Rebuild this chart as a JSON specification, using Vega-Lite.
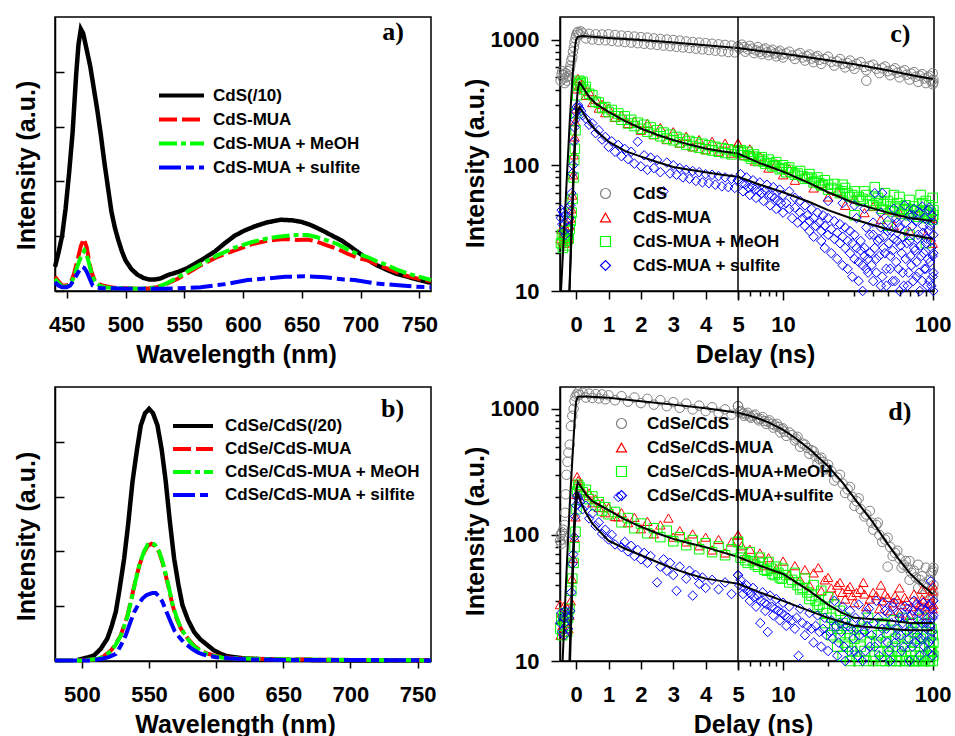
{
"$schema": "https://vega.github.io/schema/vega-lite/v6.json",
"background": "white",
"padding": {"left": 13, "top": 15, "right": 5, "bottom": 5},
"config": {
  "view": {"stroke": "black", "strokeWidth": 1.5},
  "font": "Liberation Sans",
  "axis": {"grid": false, "domainColor": "black", "domainWidth": 1.5, "tickColor": "black", "tickWidth": 1.5, "labelFont": "Liberation Sans", "labelFontSize": 22, "labelFontWeight": "bold", "labelColor": "black", "labelFlush": false, "labelOverlap": false, "titleFont": "Liberation Sans", "titleFontSize": 25, "titleFontWeight": "bold", "titleColor": "black"},
  "legend": {"labelFont": "Liberation Sans", "labelFontSize": 17, "labelFontWeight": "bold", "labelColor": "black", "padding": 0, "labelLimit": 400}
},
"datasets": {
"a1": [{"w":440,"I":0.44},{"w":443,"I":0.7},{"w":446,"I":1.0},{"w":449,"I":1.5},{"w":452,"I":2.15},{"w":455,"I":2.9},{"w":458,"I":3.95},{"w":460,"I":4.5},{"w":462,"I":4.78},{"w":464,"I":4.7},{"w":466,"I":4.5},{"w":468,"I":4.3},{"w":470,"I":4.1},{"w":473,"I":3.7},{"w":476,"I":3.3},{"w":479,"I":2.85},{"w":482,"I":2.35},{"w":485,"I":1.9},{"w":488,"I":1.45},{"w":491,"I":1.15},{"w":494,"I":0.92},{"w":497,"I":0.72},{"w":500,"I":0.56},{"w":505,"I":0.4},{"w":510,"I":0.3},{"w":515,"I":0.24},{"w":520,"I":0.21},{"w":525,"I":0.21},{"w":530,"I":0.23},{"w":536,"I":0.29},{"w":545,"I":0.35},{"w":553,"I":0.42},{"w":565,"I":0.57},{"w":576,"I":0.72},{"w":585,"I":0.88},{"w":593,"I":1.01},{"w":601,"I":1.1},{"w":610,"I":1.18},{"w":620,"I":1.25},{"w":632,"I":1.3},{"w":642,"I":1.29},{"w":650,"I":1.26},{"w":658,"I":1.2},{"w":667,"I":1.11},{"w":675,"I":1.02},{"w":684,"I":0.92},{"w":692,"I":0.8},{"w":701,"I":0.66},{"w":706,"I":0.57},{"w":714,"I":0.47},{"w":723,"I":0.38},{"w":731,"I":0.31},{"w":740,"I":0.26},{"w":750,"I":0.2},{"w":760,"I":0.15}],
"a2": [{"w":440,"I":0.26},{"w":443,"I":0.18},{"w":446,"I":0.1},{"w":450,"I":0.1},{"w":453,"I":0.14},{"w":456,"I":0.3},{"w":459,"I":0.55},{"w":462,"I":0.82},{"w":464.5,"I":0.95},{"w":467,"I":0.8},{"w":469,"I":0.55},{"w":471,"I":0.35},{"w":474,"I":0.18},{"w":478,"I":0.12},{"w":482,"I":0.09},{"w":490,"I":0.06},{"w":500,"I":0.05},{"w":510,"I":0.04},{"w":520,"I":0.05},{"w":527,"I":0.07},{"w":535,"I":0.13},{"w":544,"I":0.22},{"w":553,"I":0.33},{"w":564,"I":0.47},{"w":578,"I":0.62},{"w":593,"I":0.74},{"w":607,"I":0.85},{"w":621,"I":0.92},{"w":630,"I":0.94},{"w":638,"I":0.95},{"w":646,"I":0.93},{"w":655,"I":0.94},{"w":663,"I":0.9},{"w":672,"I":0.83},{"w":680,"I":0.77},{"w":689,"I":0.68},{"w":697,"I":0.61},{"w":706,"I":0.56},{"w":714,"I":0.48},{"w":723,"I":0.41},{"w":731,"I":0.34},{"w":740,"I":0.27},{"w":748,"I":0.23},{"w":757,"I":0.19},{"w":760,"I":0.18}],
"a3": [{"w":440,"I":0.22},{"w":443,"I":0.15},{"w":446,"I":0.08},{"w":450,"I":0.08},{"w":453,"I":0.12},{"w":456,"I":0.25},{"w":459,"I":0.45},{"w":462,"I":0.62},{"w":465,"I":0.74},{"w":467,"I":0.66},{"w":469,"I":0.5},{"w":471,"I":0.32},{"w":474,"I":0.16},{"w":478,"I":0.1},{"w":482,"I":0.07},{"w":490,"I":0.05},{"w":500,"I":0.05},{"w":510,"I":0.04},{"w":520,"I":0.05},{"w":527,"I":0.07},{"w":535,"I":0.14},{"w":544,"I":0.24},{"w":553,"I":0.36},{"w":564,"I":0.49},{"w":578,"I":0.65},{"w":593,"I":0.79},{"w":607,"I":0.89},{"w":621,"I":0.96},{"w":630,"I":0.99},{"w":638,"I":1.01},{"w":646,"I":1.02},{"w":655,"I":1.02},{"w":663,"I":0.98},{"w":672,"I":0.92},{"w":680,"I":0.86},{"w":689,"I":0.76},{"w":697,"I":0.68},{"w":706,"I":0.62},{"w":714,"I":0.54},{"w":723,"I":0.47},{"w":731,"I":0.39},{"w":740,"I":0.32},{"w":748,"I":0.27},{"w":757,"I":0.22},{"w":760,"I":0.2}],
"a4": [{"w":440,"I":0.16},{"w":443,"I":0.1},{"w":446,"I":0.07},{"w":450,"I":0.07},{"w":453,"I":0.1},{"w":456,"I":0.2},{"w":460,"I":0.35},{"w":463,"I":0.44},{"w":465,"I":0.42},{"w":467,"I":0.35},{"w":470,"I":0.2},{"w":472,"I":0.1},{"w":476,"I":0.06},{"w":480,"I":0.05},{"w":490,"I":0.05},{"w":500,"I":0.04},{"w":510,"I":0.04},{"w":520,"I":0.04},{"w":530,"I":0.04},{"w":545,"I":0.05},{"w":555,"I":0.06},{"w":564,"I":0.07},{"w":575,"I":0.1},{"w":587,"I":0.13},{"w":596,"I":0.17},{"w":604,"I":0.2},{"w":615,"I":0.22},{"w":627,"I":0.24},{"w":636,"I":0.26},{"w":644,"I":0.26},{"w":652,"I":0.27},{"w":661,"I":0.26},{"w":670,"I":0.25},{"w":678,"I":0.23},{"w":686,"I":0.21},{"w":695,"I":0.2},{"w":704,"I":0.17},{"w":712,"I":0.14},{"w":723,"I":0.12},{"w":735,"I":0.1},{"w":746,"I":0.08},{"w":757,"I":0.07},{"w":760,"I":0.07}],
"b1": [{"w":497,"I":0.02},{"w":500,"I":0.04},{"w":505,"I":0.07},{"w":509,"I":0.1},{"w":514,"I":0.22},{"w":519,"I":0.41},{"w":522,"I":0.62},{"w":525.3,"I":0.9},{"w":528,"I":1.3},{"w":531.5,"I":1.87},{"w":534.5,"I":2.5},{"w":537.7,"I":3.27},{"w":541,"I":3.85},{"w":543.9,"I":4.3},{"w":547,"I":4.52},{"w":550,"I":4.6},{"w":553,"I":4.52},{"w":556.3,"I":4.3},{"w":559.5,"I":3.85},{"w":562.5,"I":3.27},{"w":565.5,"I":2.55},{"w":568.7,"I":1.87},{"w":572,"I":1.38},{"w":574.9,"I":1.02},{"w":579,"I":0.75},{"w":583.6,"I":0.53},{"w":588,"I":0.4},{"w":593.5,"I":0.29},{"w":598,"I":0.2},{"w":603.4,"I":0.13},{"w":608,"I":0.09},{"w":613.3,"I":0.07},{"w":620,"I":0.05},{"w":635,"I":0.03},{"w":650,"I":0.02},{"w":700,"I":0.01},{"w":760,"I":0.01}],
"b2": [{"w":480,"I":0.01},{"w":500,"I":0.01},{"w":510,"I":0.03},{"w":516,"I":0.08},{"w":521.6,"I":0.19},{"w":525,"I":0.3},{"w":529,"I":0.47},{"w":534,"I":0.83},{"w":537,"I":1.15},{"w":540.2,"I":1.5},{"w":543,"I":1.76},{"w":546.4,"I":1.99},{"w":549,"I":2.1},{"w":551.8,"I":2.14},{"w":554.5,"I":2.1},{"w":557.5,"I":1.99},{"w":560,"I":1.8},{"w":562.5,"I":1.56},{"w":565,"I":1.3},{"w":567.5,"I":1.02},{"w":570.5,"I":0.78},{"w":573.7,"I":0.59},{"w":577,"I":0.47},{"w":579.9,"I":0.38},{"w":584,"I":0.27},{"w":588.5,"I":0.19},{"w":593,"I":0.14},{"w":598.4,"I":0.1},{"w":605,"I":0.07},{"w":615,"I":0.05},{"w":630,"I":0.04},{"w":650,"I":0.03},{"w":700,"I":0.02},{"w":760,"I":0.01}],
"b3": [{"w":480,"I":0.01},{"w":500,"I":0.01},{"w":510,"I":0.03},{"w":516,"I":0.07},{"w":521.6,"I":0.18},{"w":525,"I":0.29},{"w":529,"I":0.46},{"w":534,"I":0.82},{"w":537,"I":1.13},{"w":540.2,"I":1.49},{"w":543,"I":1.77},{"w":546.4,"I":2.0},{"w":549,"I":2.12},{"w":551.8,"I":2.15},{"w":554.5,"I":2.12},{"w":557.5,"I":2.0},{"w":560,"I":1.82},{"w":562.5,"I":1.58},{"w":565,"I":1.32},{"w":567.5,"I":1.04},{"w":570.5,"I":0.8},{"w":573.7,"I":0.6},{"w":577,"I":0.47},{"w":579.9,"I":0.37},{"w":584,"I":0.26},{"w":588.5,"I":0.18},{"w":593,"I":0.13},{"w":598.4,"I":0.09},{"w":605,"I":0.06},{"w":615,"I":0.05},{"w":630,"I":0.04},{"w":650,"I":0.03},{"w":700,"I":0.02},{"w":760,"I":0.01}],
"b4": [{"w":480,"I":0.01},{"w":505,"I":0.01},{"w":515,"I":0.04},{"w":520,"I":0.07},{"w":525.3,"I":0.13},{"w":529,"I":0.28},{"w":532.7,"I":0.47},{"w":536,"I":0.7},{"w":538.9,"I":0.89},{"w":542,"I":1.03},{"w":545.1,"I":1.14},{"w":548,"I":1.2},{"w":550,"I":1.22},{"w":552.6,"I":1.24},{"w":555,"I":1.24},{"w":557.5,"I":1.18},{"w":560,"I":1.08},{"w":563,"I":0.9},{"w":566.2,"I":0.71},{"w":569,"I":0.55},{"w":572.4,"I":0.44},{"w":575.5,"I":0.35},{"w":578.6,"I":0.29},{"w":582,"I":0.22},{"w":586,"I":0.16},{"w":590,"I":0.12},{"w":593.5,"I":0.1},{"w":600,"I":0.07},{"w":610,"I":0.05},{"w":625,"I":0.03},{"w":650,"I":0.02},{"w":700,"I":0.02},{"w":760,"I":0.01}],
"c1": [{"t":-0.48,"I":470},{"t":-0.45,"I":530},{"t":-0.43,"I":560},{"t":-0.4,"I":490},{"t":-0.38,"I":520},{"t":-0.35,"I":450},{"t":-0.33,"I":540},{"t":-0.3,"I":500},{"t":-0.28,"I":470},{"t":-0.25,"I":560},{"t":-0.23,"I":510},{"t":-0.2,"I":580},{"t":-0.18,"I":620},{"t":-0.15,"I":680},{"t":-0.12,"I":720},{"t":-0.1,"I":800},{"t":-0.07,"I":870},{"t":-0.05,"I":950},{"t":-0.02,"I":1020},{"t":0,"I":1080},{"t":0.03,"I":1130},{"t":0.06,"I":1150},{"t":0.1,"I":1100},{"t":0.15,"I":1160},{"t":0.2,"I":1120},{"t":0.3,"I":1020},{"t":0.4,"I":1110},{"t":0.5,"I":1000},{"t":0.6,"I":1100},{"t":0.7,"I":990},{"t":0.8,"I":1095},{"t":0.9,"I":985},{"t":1,"I":1100},{"t":1.1,"I":975},{"t":1.2,"I":1085},{"t":1.3,"I":965},{"t":1.4,"I":1075},{"t":1.5,"I":955},{"t":1.6,"I":1065},{"t":1.7,"I":945},{"t":1.8,"I":1055},{"t":1.9,"I":935},{"t":2,"I":1045},{"t":2.1,"I":925},{"t":2.2,"I":1035},{"t":2.3,"I":915},{"t":2.4,"I":1020},{"t":2.5,"I":905},{"t":2.6,"I":1010},{"t":2.7,"I":895},{"t":2.8,"I":1000},{"t":2.9,"I":885},{"t":3,"I":990},{"t":3.1,"I":875},{"t":3.2,"I":980},{"t":3.3,"I":865},{"t":3.4,"I":965},{"t":3.5,"I":855},{"t":3.6,"I":955},{"t":3.7,"I":845},{"t":3.8,"I":945},{"t":3.9,"I":835},{"t":4,"I":935},{"t":4.1,"I":825},{"t":4.2,"I":925},{"t":4.3,"I":815},{"t":4.4,"I":915},{"t":4.5,"I":805},{"t":4.6,"I":905},{"t":4.7,"I":795},{"t":4.8,"I":895},{"t":4.9,"I":790},{"t":5,"I":880},{"t":5.3,"I":910},{"t":5.6,"I":800},{"t":6,"I":890},{"t":6.4,"I":780},{"t":6.8,"I":870},{"t":7.2,"I":765},{"t":7.6,"I":850},{"t":8,"I":750},{"t":8.5,"I":830},{"t":9,"I":735},{"t":9.5,"I":815},{"t":10,"I":720},{"t":11,"I":800},{"t":12,"I":700},{"t":13,"I":780},{"t":14,"I":680},{"t":15,"I":760},{"t":16,"I":660},{"t":17,"I":740},{"t":18,"I":640},{"t":20,"I":730},{"t":22,"I":620},{"t":24,"I":700},{"t":26,"I":600},{"t":28,"I":680},{"t":30,"I":585},{"t":33,"I":660},{"t":36,"I":470},{"t":36,"I":570},{"t":40,"I":630},{"t":44,"I":540},{"t":48,"I":610},{"t":52,"I":520},{"t":56,"I":590},{"t":60,"I":500},{"t":65,"I":570},{"t":70,"I":480},{"t":75,"I":550},{"t":80,"I":460},{"t":85,"I":530},{"t":90,"I":450},{"t":95,"I":515},{"t":100,"I":440},{"t":100,"I":540},{"t":101,"I":480},{"t":5.1,"I":850},{"t":5.5,"I":870},{"t":5.8,"I":835},{"t":6.2,"I":845},{"t":6.6,"I":820},{"t":7,"I":800},{"t":7.4,"I":830},{"t":7.8,"I":790},{"t":8.3,"I":805},{"t":8.8,"I":775},{"t":9.3,"I":790},{"t":9.8,"I":760},{"t":10.5,"I":775},{"t":11.5,"I":745},{"t":12.5,"I":760},{"t":13.5,"I":720},{"t":14.5,"I":735},{"t":15.5,"I":705},{"t":16.5,"I":720},{"t":17.5,"I":690},{"t":19,"I":700},{"t":21,"I":665},{"t":23,"I":670},{"t":25,"I":640},{"t":27,"I":650},{"t":29,"I":620},{"t":31,"I":640},{"t":35,"I":605},{"t":38,"I":615},{"t":42,"I":585},{"t":46,"I":590},{"t":50,"I":560},{"t":54,"I":570},{"t":58,"I":545},{"t":62,"I":555},{"t":67,"I":525},{"t":72,"I":535},{"t":77,"I":505},{"t":82,"I":515},{"t":88,"I":490},{"t":93,"I":500},{"t":98,"I":470},{"t":101,"I":455}],
"c2": [{"t":-0.48,"I":26},{"t":-0.45,"I":31},{"t":-0.42,"I":25},{"t":-0.39,"I":29},{"t":-0.36,"I":24},{"t":-0.33,"I":32},{"t":-0.3,"I":27},{"t":-0.27,"I":30},{"t":-0.24,"I":26},{"t":-0.21,"I":33},{"t":-0.18,"I":38},{"t":-0.15,"I":45},{"t":-0.12,"I":58},{"t":-0.09,"I":84},{"t":-0.07,"I":121},{"t":-0.05,"I":168},{"t":-0.03,"I":222},{"t":-0.01,"I":281},{"t":0.02,"I":405},{"t":0.05,"I":490},{"t":0.08,"I":470},{"t":0.12,"I":430},{"t":0.2,"I":440},{"t":0.3,"I":360},{"t":0.4,"I":385},{"t":0.5,"I":315},{"t":0.6,"I":335},{"t":0.7,"I":285},{"t":0.8,"I":305},{"t":0.9,"I":262},{"t":1,"I":285},{"t":1.2,"I":240},{"t":1.4,"I":250},{"t":1.6,"I":215},{"t":1.8,"I":225},{"t":2,"I":190},{"t":2.2,"I":215},{"t":2.4,"I":175},{"t":2.6,"I":200},{"t":2.8,"I":160},{"t":3,"I":185},{"t":3.2,"I":150},{"t":3.4,"I":170},{"t":3.6,"I":140},{"t":3.8,"I":160},{"t":4,"I":133},{"t":4.2,"I":155},{"t":4.4,"I":128},{"t":4.6,"I":150},{"t":4.8,"I":125},{"t":5,"I":150},{"t":5.5,"I":120},{"t":6,"I":135},{"t":6.5,"I":108},{"t":7,"I":118},{"t":8,"I":95},{"t":9,"I":103},{"t":10,"I":84},{"t":11,"I":94},{"t":12,"I":76},{"t":14,"I":82},{"t":16,"I":66},{"t":18,"I":72},{"t":20,"I":56},{"t":23,"I":62},{"t":26,"I":48},{"t":30,"I":54},{"t":35,"I":42},{"t":40,"I":47},{"t":45,"I":37},{"t":50,"I":44},{"t":55,"I":33},{"t":60,"I":42},{"t":70,"I":30},{"t":80,"I":40},{"t":90,"I":28},{"t":100,"I":38},{"t":100,"I":24}],
"c3": [{"t":-0.47,"I":24},{"t":-0.44,"I":28},{"t":-0.41,"I":22},{"t":-0.38,"I":27},{"t":-0.35,"I":25},{"t":-0.32,"I":30},{"t":-0.29,"I":23},{"t":-0.26,"I":28},{"t":-0.23,"I":26},{"t":-0.2,"I":31},{"t":-0.17,"I":36},{"t":-0.14,"I":42},{"t":-0.11,"I":54},{"t":-0.08,"I":80},{"t":-0.06,"I":110},{"t":-0.04,"I":135},{"t":-0.02,"I":190},{"t":0,"I":260},{"t":0.03,"I":360},{"t":0.06,"I":440},{"t":0.1,"I":470},{"t":0.14,"I":450},{"t":0.2,"I":460},{"t":0.25,"I":400},{"t":0.3,"I":420},{"t":0.4,"I":370},{"t":0.5,"I":360},{"t":0.6,"I":320},{"t":0.7,"I":315},{"t":0.8,"I":285},{"t":0.9,"I":290},{"t":1,"I":265},{"t":1.1,"I":275},{"t":1.2,"I":245},{"t":1.3,"I":258},{"t":1.4,"I":230},{"t":1.5,"I":245},{"t":1.6,"I":215},{"t":1.7,"I":230},{"t":1.8,"I":205},{"t":1.9,"I":218},{"t":2,"I":195},{"t":2.1,"I":210},{"t":2.2,"I":185},{"t":2.3,"I":200},{"t":2.4,"I":178},{"t":2.5,"I":190},{"t":2.6,"I":170},{"t":2.7,"I":182},{"t":2.8,"I":163},{"t":2.9,"I":175},{"t":3,"I":158},{"t":3.1,"I":168},{"t":3.2,"I":152},{"t":3.3,"I":162},{"t":3.4,"I":146},{"t":3.5,"I":156},{"t":3.6,"I":142},{"t":3.7,"I":152},{"t":3.8,"I":138},{"t":3.9,"I":148},{"t":4,"I":134},{"t":4.1,"I":144},{"t":4.2,"I":131},{"t":4.3,"I":140},{"t":4.4,"I":128},{"t":4.5,"I":137},{"t":4.6,"I":125},{"t":4.7,"I":134},{"t":4.8,"I":122},{"t":4.9,"I":131},{"t":5,"I":128},{"t":5.2,"I":132},{"t":5.5,"I":120},{"t":5.8,"I":128},{"t":6.1,"I":113},{"t":6.4,"I":122},{"t":6.8,"I":108},{"t":7.2,"I":116},{"t":7.6,"I":103},{"t":8,"I":111},{"t":8.5,"I":98},{"t":9,"I":106},{"t":9.5,"I":93},{"t":10,"I":100},{"t":10.5,"I":88},{"t":11,"I":96},{"t":12,"I":84},{"t":13,"I":90},{"t":14,"I":78},{"t":15,"I":85},{"t":16,"I":73},{"t":17,"I":80},{"t":18,"I":69},{"t":19,"I":76},{"t":20,"I":64},{"t":22,"I":71},{"t":24,"I":60},{"t":26,"I":66},{"t":28,"I":56},{"t":30,"I":62},{"t":33,"I":52},{"t":36,"I":58},{"t":40,"I":48},{"t":41,"I":67},{"t":43,"I":55},{"t":46,"I":45},{"t":48,"I":60},{"t":50,"I":52},{"t":54,"I":43},{"t":55,"I":58},{"t":58,"I":50},{"t":62,"I":41},{"t":66,"I":48},{"t":70,"I":40},{"t":75,"I":47},{"t":80,"I":39},{"t":83,"I":58},{"t":85,"I":50},{"t":90,"I":38},{"t":95,"I":48},{"t":100,"I":37},{"t":100,"I":55},{"t":101,"I":44},{"t":30,"I":40},{"t":50,"I":33},{"t":70,"I":28},{"t":90,"I":24},{"t":5.4,"I":126},{"t":5.9,"I":118},{"t":6.3,"I":117},{"t":6.9,"I":112},{"t":7.4,"I":107},{"t":8.2,"I":104},{"t":8.8,"I":100},{"t":9.8,"I":95},{"t":10.8,"I":92},{"t":11.5,"I":88},{"t":12.5,"I":86},{"t":13.5,"I":82},{"t":14.5,"I":80},{"t":15.5,"I":78},{"t":16.5,"I":75},{"t":17.5,"I":72},{"t":18.5,"I":70},{"t":20,"I":70},{"t":21,"I":66},{"t":23,"I":64},{"t":25,"I":62},{"t":27,"I":60},{"t":29,"I":58},{"t":32,"I":56},{"t":34,"I":54},{"t":38,"I":52},{"t":42,"I":50},{"t":45,"I":52},{"t":47,"I":49},{"t":52,"I":47},{"t":56,"I":46},{"t":60,"I":45},{"t":64,"I":44},{"t":68,"I":45},{"t":72,"I":43},{"t":78,"I":44},{"t":82,"I":42},{"t":88,"I":43},{"t":92,"I":41},{"t":97,"I":42},{"t":101,"I":40},{"t":60,"I":56},{"t":70,"I":53},{"t":90,"I":52},{"t":35,"I":62},{"t":25,"I":70}],
"c4": [{"t":-0.47,"I":38},{"t":-0.45,"I":44},{"t":-0.43,"I":34},{"t":-0.4,"I":42},{"t":-0.38,"I":30},{"t":-0.35,"I":40},{"t":-0.33,"I":28},{"t":-0.3,"I":36},{"t":-0.27,"I":45},{"t":-0.24,"I":32},{"t":-0.21,"I":38},{"t":-0.18,"I":48},{"t":-0.15,"I":60},{"t":-0.12,"I":86},{"t":-0.1,"I":100},{"t":-0.07,"I":154},{"t":-0.05,"I":200},{"t":-0.03,"I":230},{"t":-0.01,"I":266},{"t":0.02,"I":291},{"t":0.06,"I":300},{"t":0.1,"I":285},{"t":0.15,"I":270},{"t":0.2,"I":250},{"t":0.3,"I":235},{"t":0.4,"I":210},{"t":0.5,"I":215},{"t":0.6,"I":180},{"t":0.7,"I":190},{"t":0.8,"I":160},{"t":0.9,"I":168},{"t":1,"I":140},{"t":1.1,"I":155},{"t":1.2,"I":128},{"t":1.3,"I":145},{"t":1.4,"I":118},{"t":1.5,"I":135},{"t":1.6,"I":112},{"t":1.7,"I":128},{"t":1.8,"I":103},{"t":1.9,"I":154},{"t":2,"I":98},{"t":2.1,"I":120},{"t":2.2,"I":92},{"t":2.3,"I":115},{"t":2.4,"I":95},{"t":2.5,"I":110},{"t":2.6,"I":88},{"t":2.7,"I":62},{"t":2.8,"I":105},{"t":2.9,"I":86},{"t":3,"I":100},{"t":3.1,"I":84},{"t":3.2,"I":95},{"t":3.3,"I":80},{"t":3.4,"I":92},{"t":3.5,"I":78},{"t":3.6,"I":90},{"t":3.7,"I":75},{"t":3.8,"I":88},{"t":3.9,"I":73},{"t":4,"I":85},{"t":4.1,"I":72},{"t":4.2,"I":84},{"t":4.3,"I":70},{"t":4.4,"I":82},{"t":4.5,"I":68},{"t":4.6,"I":80},{"t":4.7,"I":67},{"t":4.8,"I":78},{"t":4.9,"I":66},{"t":5,"I":76},{"t":5.2,"I":85},{"t":5.4,"I":62},{"t":5.7,"I":80},{"t":6,"I":58},{"t":6.3,"I":76},{"t":6.6,"I":55},{"t":7,"I":73},{"t":7.4,"I":52},{"t":7.8,"I":70},{"t":8.2,"I":48},{"t":8.6,"I":67},{"t":9,"I":45},{"t":9.5,"I":64},{"t":10,"I":42},{"t":10,"I":58},{"t":11,"I":62},{"t":11.5,"I":38},{"t":12,"I":55},{"t":12.5,"I":35},{"t":13,"I":52},{"t":14,"I":33},{"t":14,"I":48},{"t":15,"I":30},{"t":15.5,"I":45},{"t":16,"I":27},{"t":17,"I":42},{"t":18,"I":25},{"t":18.5,"I":40},{"t":19,"I":22},{"t":20,"I":38},{"t":20,"I":52},{"t":21,"I":20},{"t":22,"I":36},{"t":23,"I":18},{"t":24,"I":34},{"t":25,"I":16},{"t":25,"I":50},{"t":26,"I":32},{"t":27,"I":15},{"t":28,"I":30},{"t":29,"I":13},{"t":30,"I":28},{"t":30,"I":48},{"t":31,"I":38},{"t":32,"I":12},{"t":33,"I":25},{"t":34,"I":10},{"t":35,"I":22},{"t":35,"I":45},{"t":36,"I":32},{"t":37,"I":14},{"t":38,"I":20},{"t":40,"I":12},{"t":40,"I":28},{"t":41,"I":60},{"t":42,"I":18},{"t":44,"I":26},{"t":45,"I":11},{"t":45,"I":42},{"t":46,"I":60},{"t":47,"I":22},{"t":49,"I":15},{"t":50,"I":30},{"t":52,"I":19},{"t":54,"I":12},{"t":55,"I":26},{"t":55,"I":45},{"t":57,"I":17},{"t":58,"I":35},{"t":60,"I":10},{"t":61,"I":23},{"t":63,"I":14},{"t":65,"I":30},{"t":65,"I":48},{"t":66,"I":18},{"t":68,"I":11},{"t":70,"I":25},{"t":72,"I":16},{"t":74,"I":40},{"t":75,"I":45},{"t":76,"I":21},{"t":78,"I":13},{"t":80,"I":28},{"t":82,"I":10},{"t":84,"I":19},{"t":85,"I":47},{"t":86,"I":33},{"t":88,"I":15},{"t":90,"I":24},{"t":92,"I":11},{"t":94,"I":30},{"t":95,"I":46},{"t":96,"I":17},{"t":98,"I":22},{"t":100,"I":13},{"t":100,"I":35},{"t":101,"I":20},{"t":101,"I":10},{"t":5.3,"I":72},{"t":5.6,"I":70},{"t":5.9,"I":66},{"t":6.2,"I":68},{"t":6.5,"I":64},{"t":6.9,"I":62},{"t":7.2,"I":60},{"t":7.6,"I":63},{"t":8,"I":58},{"t":8.4,"I":57},{"t":8.8,"I":55},{"t":9.2,"I":52},{"t":9.7,"I":50},{"t":10.5,"I":50},{"t":11,"I":45},{"t":12,"I":46},{"t":13,"I":42},{"t":13.5,"I":38},{"t":14.5,"I":40},{"t":15,"I":36},{"t":16,"I":38},{"t":16.5,"I":33},{"t":17.5,"I":35},{"t":18,"I":30},{"t":19,"I":33},{"t":20,"I":28},{"t":21,"I":31},{"t":22,"I":26},{"t":23,"I":29},{"t":24,"I":24},{"t":25,"I":27},{"t":26,"I":22},{"t":27,"I":25},{"t":28,"I":20},{"t":29,"I":24},{"t":30,"I":18},{"t":31,"I":22},{"t":32,"I":17},{"t":33,"I":21},{"t":34,"I":16},{"t":35,"I":19},{"t":36,"I":15},{"t":37,"I":18},{"t":38,"I":28},{"t":39,"I":16},{"t":40,"I":35},{"t":41,"I":22},{"t":42,"I":14},{"t":43,"I":25},{"t":44,"I":19},{"t":45,"I":32},{"t":46,"I":13},{"t":47,"I":27},{"t":48,"I":20},{"t":49,"I":11},{"t":50,"I":36},{"t":51,"I":24},{"t":52,"I":15},{"t":53,"I":30},{"t":54,"I":21},{"t":56,"I":12},{"t":57,"I":38},{"t":58,"I":25},{"t":59,"I":15},{"t":60,"I":32},{"t":62,"I":20},{"t":63,"I":27},{"t":64,"I":11},{"t":66,"I":35},{"t":67,"I":24},{"t":69,"I":14},{"t":70,"I":40},{"t":71,"I":19},{"t":73,"I":33},{"t":74,"I":12},{"t":75,"I":22},{"t":77,"I":36},{"t":78,"I":17},{"t":79,"I":26},{"t":81,"I":14},{"t":82,"I":42},{"t":83,"I":23},{"t":85,"I":12},{"t":86,"I":29},{"t":87,"I":20},{"t":89,"I":38},{"t":90,"I":15},{"t":91,"I":26},{"t":93,"I":18},{"t":94,"I":44},{"t":95,"I":12},{"t":96,"I":33},{"t":97,"I":25},{"t":98,"I":11},{"t":99,"I":40},{"t":100,"I":19},{"t":101,"I":28},{"t":101,"I":14}],
"cf": [{"f":"A","t":-0.5,"I":7},{"f":"A","t":-0.4,"I":22},{"f":"A","t":-0.3,"I":70},{"f":"A","t":-0.2,"I":220},{"f":"A","t":-0.1,"I":560},{"f":"A","t":-0.03,"I":900},{"f":"A","t":0,"I":1000},{"f":"A","t":0.05,"I":1050},{"f":"A","t":0.2,"I":1065},{"f":"A","t":1,"I":1030},{"f":"A","t":2,"I":990},{"f":"A","t":3,"I":945},{"f":"A","t":4,"I":900},{"f":"A","t":5,"I":855},{"f":"A","t":7,"I":810},{"f":"A","t":10,"I":770},{"f":"A","t":15,"I":720},{"f":"A","t":20,"I":685},{"f":"A","t":30,"I":635},{"f":"A","t":50,"I":570},{"f":"A","t":70,"I":525},{"f":"A","t":100,"I":485},
{"f":"B","t":-0.22,"I":8},{"f":"B","t":-0.15,"I":30},{"f":"B","t":-0.1,"I":70},{"f":"B","t":-0.05,"I":150},{"f":"B","t":0,"I":280},{"f":"B","t":0.05,"I":400},{"f":"B","t":0.1,"I":455},{"f":"B","t":0.2,"I":420},{"f":"B","t":0.4,"I":350},{"f":"B","t":0.6,"I":310},{"f":"B","t":1,"I":266},{"f":"B","t":1.5,"I":225},{"f":"B","t":2,"I":196},{"f":"B","t":2.5,"I":175},{"f":"B","t":3,"I":159},{"f":"B","t":3.5,"I":146},{"f":"B","t":4,"I":136},{"f":"B","t":4.5,"I":129},{"f":"B","t":5,"I":124},{"f":"B","t":7,"I":104},{"f":"B","t":10,"I":89},{"f":"B","t":15,"I":72},{"f":"B","t":20,"I":61},{"f":"B","t":30,"I":50},{"f":"B","t":50,"I":42},{"f":"B","t":70,"I":38},{"f":"B","t":100,"I":36},
{"f":"C","t":-0.22,"I":8},{"f":"C","t":-0.15,"I":25},{"f":"C","t":-0.1,"I":55},{"f":"C","t":-0.05,"I":120},{"f":"C","t":0,"I":210},{"f":"C","t":0.05,"I":270},{"f":"C","t":0.1,"I":290},{"f":"C","t":0.2,"I":265},{"f":"C","t":0.4,"I":220},{"f":"C","t":0.6,"I":190},{"f":"C","t":1,"I":154},{"f":"C","t":1.5,"I":130},{"f":"C","t":2,"I":117},{"f":"C","t":2.5,"I":106},{"f":"C","t":3,"I":97},{"f":"C","t":3.5,"I":92},{"f":"C","t":4,"I":88},{"f":"C","t":4.5,"I":84},{"f":"C","t":5,"I":81},{"f":"C","t":7,"I":70},{"f":"C","t":10,"I":61},{"f":"C","t":15,"I":51},{"f":"C","t":20,"I":44},{"f":"C","t":30,"I":37},{"f":"C","t":50,"I":31},{"f":"C","t":70,"I":28},{"f":"C","t":100,"I":26}],
"d1": [{"t":-0.5,"I":90},{"t":-0.48,"I":100},{"t":-0.46,"I":85},{"t":-0.44,"I":105},{"t":-0.42,"I":92},{"t":-0.4,"I":110},{"t":-0.38,"I":98},{"t":-0.36,"I":120},{"t":-0.34,"I":150},{"t":-0.32,"I":210},{"t":-0.3,"I":300},{"t":-0.27,"I":380},{"t":-0.24,"I":450},{"t":-0.2,"I":520},{"t":-0.16,"I":730},{"t":-0.12,"I":880},{"t":-0.08,"I":1000},{"t":-0.05,"I":1150},{"t":-0.02,"I":1250},{"t":0.02,"I":1300},{"t":0.06,"I":1350},{"t":0.1,"I":1290},{"t":0.2,"I":1340},{"t":0.3,"I":1230},{"t":0.4,"I":1320},{"t":0.5,"I":1220},{"t":0.6,"I":1310},{"t":0.7,"I":1210},{"t":0.8,"I":1300},{"t":0.9,"I":1190},{"t":1,"I":1280},{"t":1.2,"I":1170},{"t":1.4,"I":1260},{"t":1.6,"I":1140},{"t":1.8,"I":1230},{"t":2,"I":1110},{"t":2.2,"I":1200},{"t":2.4,"I":1080},{"t":2.6,"I":1170},{"t":2.8,"I":1050},{"t":3,"I":1130},{"t":3.2,"I":1020},{"t":3.4,"I":1100},{"t":3.6,"I":990},{"t":3.8,"I":1060},{"t":4,"I":960},{"t":4.2,"I":1030},{"t":4.4,"I":930},{"t":4.6,"I":990},{"t":4.8,"I":900},{"t":5,"I":1050},{"t":5.2,"I":960},{"t":5.5,"I":880},{"t":5.8,"I":930},{"t":6.1,"I":850},{"t":6.5,"I":900},{"t":6.9,"I":810},{"t":7.3,"I":860},{"t":7.7,"I":760},{"t":8.1,"I":810},{"t":8.6,"I":710},{"t":9.1,"I":760},{"t":9.6,"I":650},{"t":10,"I":700},{"t":10.5,"I":610},{"t":11,"I":650},{"t":12,"I":560},{"t":12.5,"I":600},{"t":13,"I":500},{"t":14,"I":520},{"t":15,"I":440},{"t":16,"I":460},{"t":17,"I":370},{"t":18,"I":410},{"t":19,"I":330},{"t":20,"I":360},{"t":22,"I":270},{"t":24,"I":300},{"t":26,"I":215},{"t":28,"I":240},{"t":30,"I":170},{"t":32,"I":195},{"t":35,"I":140},{"t":38,"I":155},{"t":40,"I":110},{"t":43,"I":125},{"t":46,"I":88},{"t":50,"I":95},{"t":50,"I":56},{"t":54,"I":68},{"t":58,"I":75},{"t":62,"I":55},{"t":66,"I":62},{"t":70,"I":44},{"t":75,"I":52},{"t":80,"I":38},{"t":85,"I":47},{"t":90,"I":35},{"t":95,"I":44},{"t":100,"I":31},{"t":100,"I":52},{"t":101,"I":40},{"t":5.1,"I":940},{"t":5.4,"I":920},{"t":5.7,"I":900},{"t":6,"I":870},{"t":6.3,"I":880},{"t":6.7,"I":840},{"t":7.1,"I":830},{"t":7.5,"I":800},{"t":7.9,"I":790},{"t":8.4,"I":760},{"t":8.8,"I":740},{"t":9.3,"I":720},{"t":9.8,"I":690},{"t":10.2,"I":660},{"t":11.5,"I":620},{"t":12.2,"I":580},{"t":13.5,"I":530},{"t":14.5,"I":490},{"t":15.5,"I":470},{"t":16.5,"I":420},{"t":17.5,"I":400},{"t":18.5,"I":380},{"t":19.5,"I":340},{"t":21,"I":320},{"t":23,"I":285},{"t":25,"I":255},{"t":27,"I":230},{"t":29,"I":200},{"t":31,"I":185},{"t":33,"I":160},{"t":36,"I":145},{"t":39,"I":125},{"t":42,"I":120},{"t":44,"I":100},{"t":48,"I":92},{"t":52,"I":80},{"t":56,"I":72},{"t":60,"I":65},{"t":64,"I":58},{"t":68,"I":55},{"t":72,"I":50},{"t":77,"I":46},{"t":82,"I":44},{"t":87,"I":41},{"t":92,"I":38},{"t":97,"I":36},{"t":101,"I":34},{"t":101,"I":55},{"t":98,"I":50},{"t":90,"I":55},{"t":80,"I":58},{"t":70,"I":62}],
"d2": [{"t":-0.5,"I":28},{"t":-0.48,"I":16},{"t":-0.45,"I":24},{"t":-0.42,"I":19},{"t":-0.39,"I":27},{"t":-0.36,"I":17},{"t":-0.33,"I":22},{"t":-0.3,"I":20},{"t":-0.27,"I":26},{"t":-0.24,"I":18},{"t":-0.21,"I":23},{"t":-0.17,"I":30},{"t":-0.13,"I":45},{"t":-0.09,"I":65},{"t":-0.05,"I":95},{"t":-0.02,"I":139},{"t":0.01,"I":210},{"t":0.03,"I":290},{"t":0.06,"I":270},{"t":0.1,"I":245},{"t":0.2,"I":225},{"t":0.3,"I":205},{"t":0.4,"I":215},{"t":0.5,"I":180},{"t":0.6,"I":192},{"t":0.7,"I":165},{"t":0.8,"I":178},{"t":0.9,"I":150},{"t":1,"I":165},{"t":1.2,"I":140},{"t":1.3,"I":139},{"t":1.4,"I":150},{"t":1.6,"I":125},{"t":1.8,"I":138},{"t":2,"I":112},{"t":2.2,"I":128},{"t":2.4,"I":102},{"t":2.6,"I":120},{"t":2.85,"I":136},{"t":3,"I":96},{"t":3.2,"I":108},{"t":3.4,"I":88},{"t":3.6,"I":102},{"t":3.8,"I":82},{"t":4,"I":96},{"t":4.2,"I":76},{"t":4.4,"I":92},{"t":4.6,"I":72},{"t":4.8,"I":88},{"t":5,"I":100},{"t":5.3,"I":82},{"t":5.6,"I":68},{"t":6,"I":77},{"t":6.5,"I":62},{"t":7,"I":72},{"t":7.5,"I":57},{"t":8,"I":66},{"t":9,"I":54},{"t":10,"I":62},{"t":11,"I":48},{"t":12,"I":57},{"t":13,"I":44},{"t":14,"I":53},{"t":15,"I":40},{"t":16,"I":50},{"t":17.2,"I":55},{"t":18,"I":36},{"t":20,"I":46},{"t":22,"I":33},{"t":24,"I":42},{"t":26,"I":31},{"t":28,"I":39},{"t":30,"I":29},{"t":33,"I":37},{"t":34.4,"I":42},{"t":36,"I":27},{"t":40,"I":35},{"t":44,"I":26},{"t":48,"I":34},{"t":52,"I":25},{"t":56,"I":33},{"t":60,"I":24},{"t":65,"I":32},{"t":70,"I":23},{"t":75,"I":34},{"t":80,"I":25},{"t":85,"I":31},{"t":90,"I":23},{"t":95,"I":33},{"t":100,"I":26},{"t":100,"I":36},{"t":19,"I":44},{"t":21,"I":38},{"t":23,"I":40},{"t":25,"I":35},{"t":27,"I":37},{"t":29,"I":33},{"t":31,"I":35},{"t":35,"I":34},{"t":38,"I":31},{"t":42,"I":33},{"t":46,"I":30},{"t":50,"I":32},{"t":54,"I":29},{"t":58,"I":31},{"t":62,"I":28},{"t":67,"I":30},{"t":72,"I":27},{"t":77,"I":29},{"t":82,"I":28},{"t":87,"I":30},{"t":92,"I":27},{"t":97,"I":29},{"t":101,"I":28},{"t":45,"I":40},{"t":60,"I":38},{"t":85,"I":37},{"t":100,"I":40}],
"d3": [{"t":-0.49,"I":18},{"t":-0.46,"I":22},{"t":-0.43,"I":16},{"t":-0.4,"I":21},{"t":-0.37,"I":24},{"t":-0.34,"I":19},{"t":-0.31,"I":23},{"t":-0.28,"I":17},{"t":-0.25,"I":22},{"t":-0.21,"I":26},{"t":-0.15,"I":36},{"t":-0.12,"I":45},{"t":-0.08,"I":60},{"t":-0.05,"I":80},{"t":-0.02,"I":106},{"t":0.01,"I":160},{"t":0.03,"I":221},{"t":0.06,"I":250},{"t":0.1,"I":240},{"t":0.2,"I":218},{"t":0.3,"I":228},{"t":0.4,"I":192},{"t":0.5,"I":202},{"t":0.6,"I":172},{"t":0.7,"I":182},{"t":0.8,"I":156},{"t":0.9,"I":166},{"t":1,"I":146},{"t":1.2,"I":152},{"t":1.4,"I":126},{"t":1.6,"I":136},{"t":1.8,"I":113},{"t":2,"I":123},{"t":2.2,"I":103},{"t":2.4,"I":113},{"t":2.6,"I":96},{"t":2.8,"I":108},{"t":3,"I":89},{"t":3.2,"I":96},{"t":3.4,"I":83},{"t":3.6,"I":91},{"t":3.8,"I":77},{"t":4,"I":86},{"t":4.2,"I":73},{"t":4.4,"I":81},{"t":4.6,"I":69},{"t":4.8,"I":77},{"t":5,"I":88},{"t":5.3,"I":72},{"t":5.6,"I":63},{"t":6,"I":73},{"t":6.5,"I":58},{"t":7,"I":66},{"t":7.5,"I":53},{"t":8,"I":61},{"t":8.5,"I":49},{"t":9,"I":56},{"t":9.5,"I":46},{"t":10,"I":54},{"t":11,"I":42},{"t":12,"I":50},{"t":13,"I":37},{"t":14,"I":45},{"t":15,"I":31},{"t":16,"I":40},{"t":17,"I":27},{"t":18,"I":36},{"t":19,"I":20},{"t":20,"I":32},{"t":21,"I":16},{"t":22,"I":28},{"t":23,"I":13},{"t":24,"I":25},{"t":25,"I":11},{"t":26,"I":22},{"t":27,"I":18},{"t":28,"I":10},{"t":30,"I":20},{"t":32,"I":10},{"t":33,"I":16},{"t":35,"I":12},{"t":37,"I":22},{"t":40,"I":10},{"t":42,"I":14},{"t":45,"I":10},{"t":47,"I":19},{"t":50,"I":12},{"t":53,"I":10},{"t":56,"I":15},{"t":60,"I":10},{"t":63,"I":22},{"t":66,"I":11},{"t":70,"I":10},{"t":74,"I":17},{"t":78,"I":10},{"t":82,"I":13},{"t":86,"I":10},{"t":90,"I":20},{"t":94,"I":10},{"t":97,"I":12},{"t":100,"I":10},{"t":100,"I":16},{"t":101,"I":11},{"t":5.2,"I":66},{"t":5.8,"I":60},{"t":6.3,"I":62},{"t":6.8,"I":56},{"t":7.3,"I":60},{"t":7.8,"I":52},{"t":8.3,"I":54},{"t":8.8,"I":48},{"t":9.3,"I":50},{"t":9.8,"I":45},{"t":10.5,"I":48},{"t":11.5,"I":44},{"t":12.5,"I":40},{"t":13.5,"I":38},{"t":14.5,"I":35},{"t":15.5,"I":33},{"t":16.5,"I":30},{"t":17.5,"I":28},{"t":18.5,"I":26},{"t":19.5,"I":24},{"t":21,"I":22},{"t":22,"I":19},{"t":23,"I":18},{"t":24,"I":16},{"t":25,"I":20},{"t":26,"I":14},{"t":27,"I":13},{"t":28,"I":16},{"t":29,"I":12},{"t":30,"I":15},{"t":31,"I":11},{"t":33,"I":13},{"t":34,"I":18},{"t":36,"I":10},{"t":38,"I":14},{"t":39,"I":17},{"t":41,"I":11},{"t":43,"I":16},{"t":44,"I":12},{"t":46,"I":20},{"t":48,"I":10},{"t":49,"I":14},{"t":51,"I":17},{"t":52,"I":11},{"t":54,"I":13},{"t":55,"I":21},{"t":57,"I":10},{"t":59,"I":12},{"t":61,"I":16},{"t":62,"I":11},{"t":64,"I":19},{"t":65,"I":13},{"t":67,"I":10},{"t":68,"I":15},{"t":71,"I":12},{"t":72,"I":20},{"t":73,"I":10},{"t":76,"I":14},{"t":77,"I":11},{"t":79,"I":18},{"t":80,"I":10},{"t":83,"I":15},{"t":84,"I":11},{"t":85,"I":22},{"t":88,"I":13},{"t":89,"I":10},{"t":91,"I":16},{"t":93,"I":11},{"t":95,"I":14},{"t":96,"I":10},{"t":98,"I":18},{"t":99,"I":12},{"t":101,"I":14}],
"d4": [{"t":-0.49,"I":20},{"t":-0.46,"I":24},{"t":-0.43,"I":17},{"t":-0.4,"I":22},{"t":-0.37,"I":16},{"t":-0.34,"I":25},{"t":-0.31,"I":19},{"t":-0.28,"I":23},{"t":-0.25,"I":18},{"t":-0.22,"I":22},{"t":-0.18,"I":25},{"t":-0.15,"I":35},{"t":-0.12,"I":59},{"t":-0.09,"I":70},{"t":-0.06,"I":96},{"t":-0.03,"I":140},{"t":0,"I":172},{"t":0.03,"I":205},{"t":0.06,"I":195},{"t":0.1,"I":185},{"t":0.2,"I":160},{"t":0.3,"I":170},{"t":0.4,"I":135},{"t":0.5,"I":148},{"t":0.6,"I":118},{"t":0.7,"I":126},{"t":0.8,"I":102},{"t":0.9,"I":110},{"t":1,"I":92},{"t":1.1,"I":100},{"t":1.2,"I":84},{"t":1.3,"I":200},{"t":1.4,"I":80},{"t":1.5,"I":88},{"t":1.6,"I":74},{"t":1.7,"I":82},{"t":1.8,"I":68},{"t":1.9,"I":76},{"t":2,"I":64},{"t":2.1,"I":72},{"t":2.2,"I":60},{"t":2.3,"I":68},{"t":2.5,"I":42},{"t":2.6,"I":56},{"t":2.7,"I":64},{"t":2.8,"I":52},{"t":2.9,"I":60},{"t":3,"I":48},{"t":3.1,"I":36},{"t":3.2,"I":56},{"t":3.4,"I":45},{"t":3.5,"I":52},{"t":3.6,"I":33},{"t":3.7,"I":48},{"t":3.8,"I":41},{"t":3.9,"I":46},{"t":4,"I":38},{"t":4.2,"I":44},{"t":4.4,"I":37},{"t":4.6,"I":42},{"t":4.8,"I":34},{"t":5,"I":48},{"t":5.2,"I":44},{"t":5.4,"I":34},{"t":5.7,"I":40},{"t":6,"I":30},{"t":6.3,"I":38},{"t":6.6,"I":27},{"t":7.05,"I":20},{"t":7.3,"I":35},{"t":7.6,"I":25},{"t":7.9,"I":17},{"t":8.2,"I":33},{"t":8.6,"I":23},{"t":9,"I":31},{"t":9.5,"I":21},{"t":10,"I":29},{"t":10.5,"I":19},{"t":11,"I":27},{"t":12,"I":18},{"t":12.7,"I":11},{"t":13,"I":26},{"t":14,"I":16},{"t":15,"I":24},{"t":16,"I":14},{"t":17,"I":23},{"t":18,"I":13},{"t":19,"I":22},{"t":20,"I":12},{"t":21,"I":21},{"t":22,"I":30},{"t":23,"I":11},{"t":24,"I":20},{"t":25,"I":27},{"t":26,"I":10},{"t":27,"I":19},{"t":28,"I":25},{"t":30,"I":12},{"t":31,"I":18},{"t":32,"I":28},{"t":34,"I":10},{"t":35,"I":17},{"t":36,"I":24},{"t":38,"I":13},{"t":40,"I":20},{"t":42,"I":30},{"t":44,"I":11},{"t":46,"I":18},{"t":48,"I":25},{"t":50,"I":24},{"t":50,"I":14},{"t":52,"I":10},{"t":55,"I":29},{"t":57,"I":16},{"t":60,"I":22},{"t":62,"I":12},{"t":65,"I":27},{"t":67,"I":17},{"t":70,"I":10},{"t":72,"I":23},{"t":75,"I":30},{"t":77,"I":14},{"t":80,"I":21},{"t":82,"I":11},{"t":85,"I":26},{"t":87,"I":16},{"t":90,"I":20},{"t":92,"I":12},{"t":95,"I":28},{"t":97,"I":43},{"t":98,"I":15},{"t":100,"I":22},{"t":100,"I":11},{"t":101,"I":30},{"t":5.1,"I":40},{"t":5.5,"I":38},{"t":5.8,"I":36},{"t":6.1,"I":34},{"t":6.4,"I":32},{"t":6.8,"I":33},{"t":7.1,"I":30},{"t":7.5,"I":29},{"t":7.8,"I":28},{"t":8.4,"I":27},{"t":8.8,"I":26},{"t":9.3,"I":25},{"t":9.8,"I":24},{"t":10.3,"I":23},{"t":10.8,"I":22},{"t":11.5,"I":21},{"t":12.3,"I":22},{"t":13.5,"I":20},{"t":14.5,"I":19},{"t":15.5,"I":18},{"t":16.5,"I":19},{"t":17.5,"I":17},{"t":18.5,"I":18},{"t":19.5,"I":16},{"t":20.5,"I":17},{"t":21.5,"I":15},{"t":22.5,"I":19},{"t":23.5,"I":14},{"t":24.5,"I":17},{"t":25.5,"I":13},{"t":26.5,"I":21},{"t":27.5,"I":12},{"t":28.5,"I":18},{"t":29.5,"I":15},{"t":30.5,"I":22},{"t":31.5,"I":11},{"t":32.5,"I":16},{"t":33.5,"I":20},{"t":35.5,"I":12},{"t":36.5,"I":19},{"t":37.5,"I":26},{"t":39,"I":16},{"t":41,"I":13},{"t":43,"I":22},{"t":45,"I":15},{"t":47,"I":29},{"t":49,"I":18},{"t":51,"I":12},{"t":53,"I":20},{"t":54,"I":27},{"t":56,"I":14},{"t":58,"I":18},{"t":59,"I":24},{"t":61,"I":16},{"t":63,"I":20},{"t":64,"I":13},{"t":66,"I":22},{"t":68,"I":26},{"t":69,"I":15},{"t":71,"I":18},{"t":73,"I":13},{"t":74,"I":25},{"t":76,"I":19},{"t":78,"I":28},{"t":79,"I":16},{"t":81,"I":24},{"t":83,"I":15},{"t":84,"I":20},{"t":86,"I":29},{"t":88,"I":13},{"t":89,"I":25},{"t":91,"I":18},{"t":93,"I":22},{"t":94,"I":14},{"t":96,"I":19},{"t":99,"I":26},{"t":99,"I":17},{"t":101,"I":23}],
"df": [{"f":"A","t":-0.42,"I":10},{"f":"A","t":-0.3,"I":50},{"f":"A","t":-0.2,"I":170},{"f":"A","t":-0.1,"I":480},{"f":"A","t":-0.03,"I":950},{"f":"A","t":0,"I":1150},{"f":"A","t":0.05,"I":1250},{"f":"A","t":0.3,"I":1255},{"f":"A","t":1,"I":1225},{"f":"A","t":2,"I":1150},{"f":"A","t":3,"I":1080},{"f":"A","t":4,"I":1010},{"f":"A","t":5,"I":930},{"f":"A","t":6,"I":880},{"f":"A","t":7,"I":830},{"f":"A","t":8,"I":780},{"f":"A","t":10,"I":680},{"f":"A","t":12,"I":590},{"f":"A","t":15,"I":480},{"f":"A","t":20,"I":350},{"f":"A","t":25,"I":260},{"f":"A","t":30,"I":195},{"f":"A","t":40,"I":125},{"f":"A","t":50,"I":85},{"f":"A","t":60,"I":63},{"f":"A","t":70,"I":50},{"f":"A","t":85,"I":40},{"f":"A","t":100,"I":34},
{"f":"B","t":-0.22,"I":8},{"f":"B","t":-0.16,"I":25},{"f":"B","t":-0.11,"I":60},{"f":"B","t":-0.06,"I":130},{"f":"B","t":0,"I":220},{"f":"B","t":0.05,"I":262},{"f":"B","t":0.15,"I":240},{"f":"B","t":0.3,"I":210},{"f":"B","t":0.5,"I":185},{"f":"B","t":1,"I":157},{"f":"B","t":1.5,"I":133},{"f":"B","t":2,"I":116},{"f":"B","t":2.5,"I":103},{"f":"B","t":3,"I":93},{"f":"B","t":3.5,"I":86},{"f":"B","t":4,"I":80},{"f":"B","t":4.5,"I":73},{"f":"B","t":5,"I":67},{"f":"B","t":7,"I":57},{"f":"B","t":10,"I":49},{"f":"B","t":15,"I":36},{"f":"B","t":20,"I":28},{"f":"B","t":25,"I":24},{"f":"B","t":30,"I":22},{"f":"B","t":50,"I":21},{"f":"B","t":70,"I":20},{"f":"B","t":100,"I":20},
{"f":"C","t":-0.2,"I":8},{"f":"C","t":-0.15,"I":22},{"f":"C","t":-0.1,"I":50},{"f":"C","t":-0.05,"I":110},{"f":"C","t":0,"I":180},{"f":"C","t":0.05,"I":212},{"f":"C","t":0.15,"I":180},{"f":"C","t":0.3,"I":150},{"f":"C","t":0.5,"I":123},{"f":"C","t":1,"I":90},{"f":"C","t":1.5,"I":78},{"f":"C","t":2,"I":69},{"f":"C","t":2.5,"I":61},{"f":"C","t":3,"I":54},{"f":"C","t":3.5,"I":49},{"f":"C","t":4,"I":45},{"f":"C","t":4.5,"I":43},{"f":"C","t":5,"I":41},{"f":"C","t":7,"I":35},{"f":"C","t":10,"I":30},{"f":"C","t":15,"I":25},{"f":"C","t":20,"I":22},{"f":"C","t":30,"I":19},{"f":"C","t":50,"I":18},{"f":"C","t":70,"I":17.5},{"f":"C","t":100,"I":17.5}]
},
"bounds": "flush",
"columns": 2,
"spacing": {"row": 96, "column": 129},
"resolve": {"scale": {"x": "independent", "y": "independent", "color": "independent", "shape": "independent", "strokeDash": "independent"}, "legend": {"color": "independent", "shape": "independent", "strokeDash": "independent"}},
"concat": [
  {"width": 376, "height": 274, "layer": [
    {"data": {"name": "a1"}, "mark": {"type": "line", "strokeWidth": 4.5}, "encoding": {
      "x": {"field": "w", "type": "quantitative", "scale": {"domain": [440, 760], "nice": false, "zero": false}, "axis": {"values": [450, 500, 550, 600, 650, 700, 750], "tickSize": 7, "labelPadding": 16, "title": "Wavelength (nm)", "titleX": 181, "titleY": 51, "titleBaseline": "top"}},
      "y": {"field": "I", "type": "quantitative", "scale": {"domain": [0, 5], "nice": false}, "axis": {"values": [0, 1, 2, 3, 4], "labels": false, "tickSize": -9, "title": "Intensity (a.u.)", "titleX": -21, "titleY": 148, "titleBaseline": "alphabetic"}},
      "color": {"datum": "CdS(/10)", "type": "nominal", "scale": {"domain": ["CdS(/10)", "CdS-MUA", "CdS-MUA + MeOH", "CdS-MUA + sulfite"], "range": ["#000000", "#ff0000", "#00ff00", "#0000ff"]}, "legend": {"title": null, "orient": "none", "legendX": 117, "legendY": 69, "symbolType": "M-3,0H3", "symbolSize": 225, "symbolStrokeWidth": 4, "labelOffset": 22, "rowPadding": 6}},
      "strokeDash": {"datum": "CdS(/10)", "type": "nominal", "scale": {"domain": ["CdS(/10)", "CdS-MUA", "CdS-MUA + MeOH", "CdS-MUA + sulfite"], "range": [[1, 0], [18, 5], [18, 4, 5, 4], [22, 5, 8, 5]]}, "legend": {"title": null, "orient": "none", "legendX": 117, "legendY": 69, "symbolType": "M-3,0H3", "symbolSize": 225, "symbolStrokeWidth": 4, "labelOffset": 22, "rowPadding": 6}}}},
    {"data": {"name": "a2"}, "mark": {"type": "line", "strokeWidth": 4}, "encoding": {"x": {"field": "w", "type": "quantitative"}, "y": {"field": "I", "type": "quantitative"}, "color": {"datum": "CdS-MUA", "type": "nominal"}, "strokeDash": {"datum": "CdS-MUA", "type": "nominal"}}},
    {"data": {"name": "a3"}, "mark": {"type": "line", "strokeWidth": 4}, "encoding": {"x": {"field": "w", "type": "quantitative"}, "y": {"field": "I", "type": "quantitative"}, "color": {"datum": "CdS-MUA + MeOH", "type": "nominal"}, "strokeDash": {"datum": "CdS-MUA + MeOH", "type": "nominal"}}},
    {"data": {"name": "a4"}, "mark": {"type": "line", "strokeWidth": 4}, "encoding": {"x": {"field": "w", "type": "quantitative"}, "y": {"field": "I", "type": "quantitative"}, "color": {"datum": "CdS-MUA + sulfite", "type": "nominal"}, "strokeDash": {"datum": "CdS-MUA + sulfite", "type": "nominal"}}},
    {"data": {"values": [{}]}, "mark": {"type": "text", "text": "a)", "font": "Liberation Serif", "fontSize": 26, "fontWeight": "bold", "align": "right", "baseline": "alphabetic", "color": "black"}, "encoding": {"x": {"datum": 737}, "y": {"datum": 4.58}}}
  ]},
  {"width": 374, "height": 274,
   "resolve": {"scale": {"x": "independent"}, "axis": {"x": "independent"}},
   "layer": [
    {"layer": [
      {"data": {"name": "c1"}, "transform": [{"filter": "datum.t <= 5"}], "mark": {"type": "point", "filled": false, "size": 90, "strokeWidth": 1, "opacity": 1}, "encoding": {
        "x": {"field": "t", "type": "quantitative", "scale": {"domain": [-0.5, 5], "range": [0, 178], "nice": false, "zero": false}, "axis": {"orient": "bottom", "values": [0, 1, 2, 3, 4, 5], "format": "d", "tickSize": 8, "labelPadding": 15, "title": "Delay (ns)", "titleX": 195, "titleY": 51, "titleBaseline": "top"}},
        "y": {"field": "I", "type": "quantitative", "scale": {"type": "log", "domain": [10, 1510], "nice": false}, "axis": {"values": [10, 20, 30, 40, 50, 60, 70, 80, 90, 100, 200, 300, 400, 500, 600, 700, 800, 900, 1000], "format": "d", "labelExpr": "datum.value == 10 || datum.value == 100 || datum.value == 1000 ? datum.label : ''", "tickSize": {"condition": {"test": "datum.value == 10 || datum.value == 100 || datum.value == 1000", "value": 9}, "value": 5}, "labelPadding": 12, "title": "Intensity (a.u.)", "titleX": -77, "titleY": 146, "titleBaseline": "alphabetic"}},
        "color": {"datum": "CdS", "type": "nominal", "scale": {"domain": ["CdS", "CdS-MUA", "CdS-MUA + MeOH", "CdS-MUA + sulfite"], "range": ["#808080", "#ff0000", "#00ff00", "#0000ff"]}, "legend": {"title": null, "orient": "none", "legendX": 37, "legendY": 168, "symbolSize": 100, "symbolStrokeWidth": 1.2, "labelOffset": 19, "rowPadding": 6}},
        "shape": {"datum": "CdS", "type": "nominal", "scale": {"domain": ["CdS", "CdS-MUA", "CdS-MUA + MeOH", "CdS-MUA + sulfite"], "range": ["circle", "triangle-up", "square", "diamond"]}, "legend": {"title": null, "orient": "none", "legendX": 37, "legendY": 168, "symbolSize": 100, "symbolStrokeWidth": 1.2, "labelOffset": 19, "rowPadding": 6}}}},
      {"data": {"name": "c2"}, "transform": [{"filter": "datum.t <= 5"}], "mark": {"type": "point", "filled": false, "size": 90, "strokeWidth": 1, "opacity": 1}, "encoding": {"x": {"field": "t", "type": "quantitative"}, "y": {"field": "I", "type": "quantitative"}, "color": {"datum": "CdS-MUA", "type": "nominal"}, "shape": {"datum": "CdS-MUA", "type": "nominal"}}},
      {"data": {"name": "c3"}, "transform": [{"filter": "datum.t <= 5"}], "mark": {"type": "point", "filled": false, "size": 90, "strokeWidth": 1, "opacity": 1}, "encoding": {"x": {"field": "t", "type": "quantitative"}, "y": {"field": "I", "type": "quantitative"}, "color": {"datum": "CdS-MUA + MeOH", "type": "nominal"}, "shape": {"datum": "CdS-MUA + MeOH", "type": "nominal"}}},
      {"data": {"name": "c4"}, "transform": [{"filter": "datum.t <= 5"}], "mark": {"type": "point", "filled": false, "size": 90, "strokeWidth": 1, "opacity": 1}, "encoding": {"x": {"field": "t", "type": "quantitative"}, "y": {"field": "I", "type": "quantitative"}, "color": {"datum": "CdS-MUA + sulfite", "type": "nominal"}, "shape": {"datum": "CdS-MUA + sulfite", "type": "nominal"}}},
      {"data": {"name": "cf"}, "transform": [{"filter": "datum.t <= 5"}], "mark": {"type": "line", "color": "black", "strokeWidth": 2, "clip": true}, "encoding": {"x": {"field": "t", "type": "quantitative"}, "y": {"field": "I", "type": "quantitative"}, "detail": {"field": "f"}}}
    ]},
    {"layer": [
      {"data": {"name": "c1"}, "transform": [{"filter": "datum.t >= 5"}], "mark": {"type": "point", "filled": false, "size": 90, "strokeWidth": 1, "opacity": 1}, "encoding": {
        "x": {"field": "t", "type": "quantitative", "scale": {"type": "log", "domain": [5, 102], "range": [178, 374], "nice": false}, "axis": {"orient": "bottom", "values": [5, 6, 7, 8, 9, 10, 20, 30, 40, 50, 60, 70, 80, 90, 100], "format": "d", "labelExpr": "datum.value == 10 || datum.value == 100 ? datum.label : ''", "tickSize": {"condition": {"test": "datum.value == 5 || datum.value == 10 || datum.value == 100", "value": 9}, "value": 5}, "labelPadding": 14, "title": null}},
        "y": {"field": "I", "type": "quantitative"}, "color": {"datum": "CdS", "type": "nominal"}, "shape": {"datum": "CdS", "type": "nominal"}}},
      {"data": {"name": "c2"}, "transform": [{"filter": "datum.t >= 5"}], "mark": {"type": "point", "filled": false, "size": 90, "strokeWidth": 1, "opacity": 1}, "encoding": {"x": {"field": "t", "type": "quantitative"}, "y": {"field": "I", "type": "quantitative"}, "color": {"datum": "CdS-MUA", "type": "nominal"}, "shape": {"datum": "CdS-MUA", "type": "nominal"}}},
      {"data": {"name": "c3"}, "transform": [{"filter": "datum.t >= 5"}], "mark": {"type": "point", "filled": false, "size": 90, "strokeWidth": 1, "opacity": 1}, "encoding": {"x": {"field": "t", "type": "quantitative"}, "y": {"field": "I", "type": "quantitative"}, "color": {"datum": "CdS-MUA + MeOH", "type": "nominal"}, "shape": {"datum": "CdS-MUA + MeOH", "type": "nominal"}}},
      {"data": {"name": "c4"}, "transform": [{"filter": "datum.t >= 5"}], "mark": {"type": "point", "filled": false, "size": 90, "strokeWidth": 1, "opacity": 1}, "encoding": {"x": {"field": "t", "type": "quantitative"}, "y": {"field": "I", "type": "quantitative"}, "color": {"datum": "CdS-MUA + sulfite", "type": "nominal"}, "shape": {"datum": "CdS-MUA + sulfite", "type": "nominal"}}},
      {"data": {"name": "cf"}, "transform": [{"filter": "datum.t >= 5"}], "mark": {"type": "line", "color": "black", "strokeWidth": 2, "clip": true}, "encoding": {"x": {"field": "t", "type": "quantitative"}, "y": {"field": "I", "type": "quantitative"}, "detail": {"field": "f"}}},
      {"data": {"values": [{}]}, "mark": {"type": "rule", "color": "black", "strokeWidth": 1.5}, "encoding": {"x": {"datum": 5}}},
      {"data": {"values": [{}]}, "mark": {"type": "text", "text": "c)", "font": "Liberation Serif", "fontSize": 26, "fontWeight": "bold", "align": "right", "baseline": "alphabetic", "color": "black"}, "encoding": {"x": {"datum": 71}, "y": {"datum": 960}}}
    ]}
   ]},
  {"width": 376, "height": 274, "layer": [
    {"data": {"name": "b1"}, "mark": {"type": "line", "strokeWidth": 4.5}, "encoding": {
      "x": {"field": "w", "type": "quantitative", "scale": {"domain": [480, 760], "nice": false, "zero": false}, "axis": {"values": [500, 550, 600, 650, 700, 750], "tickSize": 7, "labelPadding": 16, "title": "Wavelength (nm)", "titleX": 180, "titleY": 51, "titleBaseline": "top"}},
      "y": {"field": "I", "type": "quantitative", "scale": {"domain": [0, 5], "nice": false}, "axis": {"values": [0, 1, 2, 3, 4], "labels": false, "tickSize": -9, "title": "Intensity (a.u.)", "titleX": -21, "titleY": 149, "titleBaseline": "alphabetic"}},
      "color": {"datum": "CdSe/CdS(/20)", "type": "nominal", "scale": {"domain": ["CdSe/CdS(/20)", "CdSe/CdS-MUA", "CdSe/CdS-MUA + MeOH", "CdSe/CdS-MUA + silfite"], "range": ["#000000", "#ff0000", "#00ff00", "#0000ff"]}, "legend": {"title": null, "orient": "none", "legendX": 129, "legendY": 30, "symbolType": "M-3,0H3", "symbolSize": 178, "symbolStrokeWidth": 4, "labelOffset": 23, "rowPadding": 6}},
      "strokeDash": {"datum": "CdSe/CdS(/20)", "type": "nominal", "scale": {"domain": ["CdSe/CdS(/20)", "CdSe/CdS-MUA", "CdSe/CdS-MUA + MeOH", "CdSe/CdS-MUA + silfite"], "range": [[1, 0], [18, 5], [18, 4, 5, 4], [22, 5, 8, 5]]}, "legend": {"title": null, "orient": "none", "legendX": 129, "legendY": 30, "symbolType": "M-3,0H3", "symbolSize": 178, "symbolStrokeWidth": 4, "labelOffset": 23, "rowPadding": 6}}}},
    {"data": {"name": "b2"}, "mark": {"type": "line", "strokeWidth": 4}, "encoding": {"x": {"field": "w", "type": "quantitative"}, "y": {"field": "I", "type": "quantitative"}, "color": {"datum": "CdSe/CdS-MUA", "type": "nominal"}, "strokeDash": {"datum": "CdSe/CdS-MUA", "type": "nominal"}}},
    {"data": {"name": "b3"}, "mark": {"type": "line", "strokeWidth": 4}, "encoding": {"x": {"field": "w", "type": "quantitative"}, "y": {"field": "I", "type": "quantitative"}, "color": {"datum": "CdSe/CdS-MUA + MeOH", "type": "nominal"}, "strokeDash": {"datum": "CdSe/CdS-MUA + MeOH", "type": "nominal"}}},
    {"data": {"name": "b4"}, "mark": {"type": "line", "strokeWidth": 4}, "encoding": {"x": {"field": "w", "type": "quantitative"}, "y": {"field": "I", "type": "quantitative"}, "color": {"datum": "CdSe/CdS-MUA + silfite", "type": "nominal"}, "strokeDash": {"datum": "CdSe/CdS-MUA + silfite", "type": "nominal"}}},
    {"data": {"values": [{}]}, "mark": {"type": "text", "text": "b)", "font": "Liberation Serif", "fontSize": 26, "fontWeight": "bold", "align": "right", "baseline": "alphabetic", "color": "black"}, "encoding": {"x": {"datum": 740}, "y": {"datum": 4.45}}}
  ]},
  {"width": 374, "height": 274,
   "resolve": {"scale": {"x": "independent"}, "axis": {"x": "independent"}},
   "layer": [
    {"layer": [
      {"data": {"name": "d1"}, "transform": [{"filter": "datum.t <= 5"}], "mark": {"type": "point", "filled": false, "size": 90, "strokeWidth": 1, "opacity": 1}, "encoding": {
        "x": {"field": "t", "type": "quantitative", "scale": {"domain": [-0.5, 5], "range": [0, 178], "nice": false, "zero": false}, "axis": {"orient": "bottom", "values": [0, 1, 2, 3, 4, 5], "format": "d", "tickSize": 8, "labelPadding": 15, "title": "Delay (ns)", "titleX": 193, "titleY": 51, "titleBaseline": "top"}},
        "y": {"field": "I", "type": "quantitative", "scale": {"type": "log", "domain": [10, 1490], "nice": false}, "axis": {"values": [10, 20, 30, 40, 50, 60, 70, 80, 90, 100, 200, 300, 400, 500, 600, 700, 800, 900, 1000], "format": "d", "labelExpr": "datum.value == 10 || datum.value == 100 || datum.value == 1000 ? datum.label : ''", "tickSize": {"condition": {"test": "datum.value == 10 || datum.value == 100 || datum.value == 1000", "value": 9}, "value": 5}, "labelPadding": 12, "title": "Intensity (a.u.)", "titleX": -77, "titleY": 144, "titleBaseline": "alphabetic"}},
        "color": {"datum": "CdSe/CdS", "type": "nominal", "scale": {"domain": ["CdSe/CdS", "CdSe/CdS-MUA", "CdSe/CdS-MUA+MeOH", "CdSe/CdS-MUA+sulfite"], "range": ["#808080", "#ff0000", "#00ff00", "#0000ff"]}, "legend": {"title": null, "orient": "none", "legendX": 53, "legendY": 28, "symbolSize": 100, "symbolStrokeWidth": 1.2, "labelOffset": 17, "rowPadding": 6}},
        "shape": {"datum": "CdSe/CdS", "type": "nominal", "scale": {"domain": ["CdSe/CdS", "CdSe/CdS-MUA", "CdSe/CdS-MUA+MeOH", "CdSe/CdS-MUA+sulfite"], "range": ["circle", "triangle-up", "square", "diamond"]}, "legend": {"title": null, "orient": "none", "legendX": 53, "legendY": 28, "symbolSize": 100, "symbolStrokeWidth": 1.2, "labelOffset": 17, "rowPadding": 6}}}},
      {"data": {"name": "d2"}, "transform": [{"filter": "datum.t <= 5"}], "mark": {"type": "point", "filled": false, "size": 90, "strokeWidth": 1, "opacity": 1}, "encoding": {"x": {"field": "t", "type": "quantitative"}, "y": {"field": "I", "type": "quantitative"}, "color": {"datum": "CdSe/CdS-MUA", "type": "nominal"}, "shape": {"datum": "CdSe/CdS-MUA", "type": "nominal"}}},
      {"data": {"name": "d3"}, "transform": [{"filter": "datum.t <= 5"}], "mark": {"type": "point", "filled": false, "size": 90, "strokeWidth": 1, "opacity": 1}, "encoding": {"x": {"field": "t", "type": "quantitative"}, "y": {"field": "I", "type": "quantitative"}, "color": {"datum": "CdSe/CdS-MUA+MeOH", "type": "nominal"}, "shape": {"datum": "CdSe/CdS-MUA+MeOH", "type": "nominal"}}},
      {"data": {"name": "d4"}, "transform": [{"filter": "datum.t <= 5"}], "mark": {"type": "point", "filled": false, "size": 90, "strokeWidth": 1, "opacity": 1}, "encoding": {"x": {"field": "t", "type": "quantitative"}, "y": {"field": "I", "type": "quantitative"}, "color": {"datum": "CdSe/CdS-MUA+sulfite", "type": "nominal"}, "shape": {"datum": "CdSe/CdS-MUA+sulfite", "type": "nominal"}}},
      {"data": {"name": "df"}, "transform": [{"filter": "datum.t <= 5"}], "mark": {"type": "line", "color": "black", "strokeWidth": 2, "clip": true}, "encoding": {"x": {"field": "t", "type": "quantitative"}, "y": {"field": "I", "type": "quantitative"}, "detail": {"field": "f"}}}
    ]},
    {"layer": [
      {"data": {"name": "d1"}, "transform": [{"filter": "datum.t >= 5"}], "mark": {"type": "point", "filled": false, "size": 90, "strokeWidth": 1, "opacity": 1}, "encoding": {
        "x": {"field": "t", "type": "quantitative", "scale": {"type": "log", "domain": [5, 102], "range": [178, 374], "nice": false}, "axis": {"orient": "bottom", "values": [5, 6, 7, 8, 9, 10, 20, 30, 40, 50, 60, 70, 80, 90, 100], "format": "d", "labelExpr": "datum.value == 10 || datum.value == 100 ? datum.label : ''", "tickSize": {"condition": {"test": "datum.value == 5 || datum.value == 10 || datum.value == 100", "value": 9}, "value": 5}, "labelPadding": 14, "title": null}},
        "y": {"field": "I", "type": "quantitative"}, "color": {"datum": "CdSe/CdS", "type": "nominal"}, "shape": {"datum": "CdSe/CdS", "type": "nominal"}}},
      {"data": {"name": "d2"}, "transform": [{"filter": "datum.t >= 5"}], "mark": {"type": "point", "filled": false, "size": 90, "strokeWidth": 1, "opacity": 1}, "encoding": {"x": {"field": "t", "type": "quantitative"}, "y": {"field": "I", "type": "quantitative"}, "color": {"datum": "CdSe/CdS-MUA", "type": "nominal"}, "shape": {"datum": "CdSe/CdS-MUA", "type": "nominal"}}},
      {"data": {"name": "d3"}, "transform": [{"filter": "datum.t >= 5"}], "mark": {"type": "point", "filled": false, "size": 90, "strokeWidth": 1, "opacity": 1}, "encoding": {"x": {"field": "t", "type": "quantitative"}, "y": {"field": "I", "type": "quantitative"}, "color": {"datum": "CdSe/CdS-MUA+MeOH", "type": "nominal"}, "shape": {"datum": "CdSe/CdS-MUA+MeOH", "type": "nominal"}}},
      {"data": {"name": "d4"}, "transform": [{"filter": "datum.t >= 5"}], "mark": {"type": "point", "filled": false, "size": 90, "strokeWidth": 1, "opacity": 1}, "encoding": {"x": {"field": "t", "type": "quantitative"}, "y": {"field": "I", "type": "quantitative"}, "color": {"datum": "CdSe/CdS-MUA+sulfite", "type": "nominal"}, "shape": {"datum": "CdSe/CdS-MUA+sulfite", "type": "nominal"}}},
      {"data": {"name": "df"}, "transform": [{"filter": "datum.t >= 5"}], "mark": {"type": "line", "color": "black", "strokeWidth": 2, "clip": true}, "encoding": {"x": {"field": "t", "type": "quantitative"}, "y": {"field": "I", "type": "quantitative"}, "detail": {"field": "f"}}},
      {"data": {"values": [{}]}, "mark": {"type": "rule", "color": "black", "strokeWidth": 1.5}, "encoding": {"x": {"datum": 5}}},
      {"data": {"values": [{}]}, "mark": {"type": "text", "text": "d)", "font": "Liberation Serif", "fontSize": 26, "fontWeight": "bold", "align": "right", "baseline": "alphabetic", "color": "black"}, "encoding": {"x": {"datum": 72}, "y": {"datum": 813}}}
    ]}
   ]}
]
}
